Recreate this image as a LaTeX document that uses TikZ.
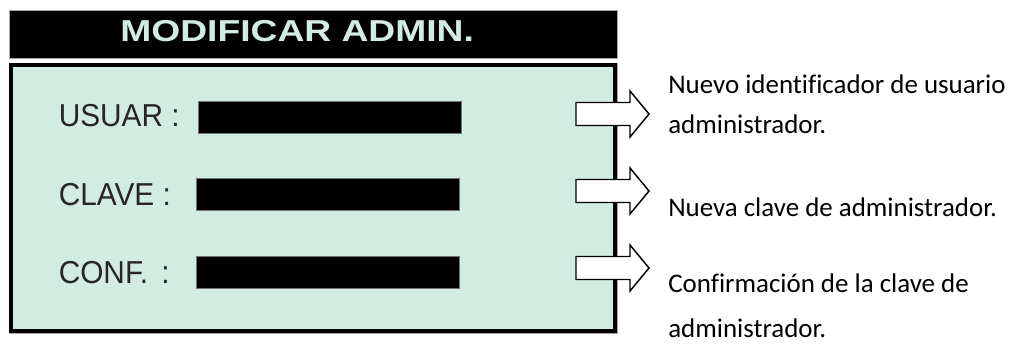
\documentclass[tikz,border=0pt]{standalone}
\usepackage{fontspec}
\newfontfamily\descfont{Carlito}[Ligatures=NoCommon]
\newfontfamily\labfont{Liberation Sans}
\definecolor{mint}{RGB}{211,236,225}
\begin{document}
\begin{tikzpicture}[x=0.75pt,y=-0.75pt,
  desc/.style={anchor=base west,inner sep=0pt,font=\descfont\fontsize{20.2}{24}\selectfont},
  lab/.style={anchor=base west,inner sep=0pt,xscale=0.94,text=black!85,font=\labfont\fontsize{23.8}{28}\selectfont},
  fieldbox/.style={fill=black,draw=black!55,line width=0.6pt},
  blockarrow/.style={fill=white,draw=black,line width=1.1pt,line join=miter}]
\useasboundingbox (0,0) rectangle (1009,343);
% title bar
\fill[black!35] (8.5,9.5) rectangle (617.5,59);
\fill[black] (9.5,10.5) rectangle (616.5,58.3);
\node[anchor=base west,inner sep=0pt,xscale=1.23,text=mint,font=\labfont\bfseries\fontsize{22.7}{26}\selectfont] (title) at (120,41.7) {MODIFICAR ADMIN.};
% panel
\fill[black!35] (8.5,62.5) rectangle (617.5,333.5);
\draw[line width=3pt,fill=mint] (11,65) rectangle (615,330.5);
% labels
\node[lab] (l1) at (58.5,126) {USUAR :};
\node[lab] (l2) at (58.5,205) {CLAVE :};
\node[lab] (l3) at (58.5,283) {CONF.\hspace{3.8pt} :};
% fields
\path[fieldbox] (198,101.5) rectangle (461,133);
\path[fieldbox] (196,178) rectangle (459,210);
\path[fieldbox] (196,256) rectangle (459,288.3);
% arrows
\foreach \cy in {114,191,268}{
  \draw[blockarrow] (576,\cy-11.5) -- (630,\cy-11.5) -- (630,\cy-23) -- (649,\cy)
     -- (630,\cy+23) -- (630,\cy+11.5) -- (576,\cy+11.5) -- cycle;
}
% descriptions
\node[desc] (d1) at (668,93) {Nuevo identificador de usuario};
\node[desc] (d2) at (668,133) {administrador.};
\node[desc] (d3) at (668,216) {Nueva clave de administrador.};
\node[desc] (d4) at (668,292) {Confirmación de la clave de};
\node[desc] (d5) at (668,337) {administrador.};
\end{tikzpicture}
\end{document}
